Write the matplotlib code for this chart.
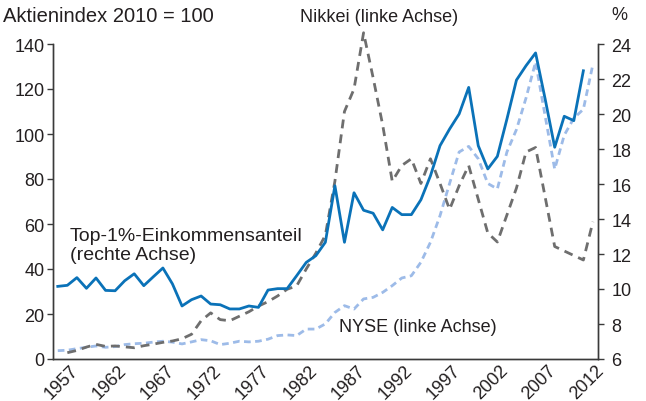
import matplotlib.pyplot as plt
import matplotlib.transforms as mtransforms

plt.rcParams['font.family'] = ['Liberation Sans', 'DejaVu Sans']

# data
years = list(range(1957, 2014))
top1_years = list(range(1957, 2013))
nikkei_years = list(range(1958, 2014))

top1_share = [10.15, 10.21, 10.65, 10.04, 10.63, 9.92, 9.90, 10.47, 10.87, 10.19,
              10.70, 11.20, 10.29, 9.03, 9.39, 9.60, 9.14, 9.10, 8.86, 8.86,
              9.03, 8.95, 9.94, 10.02, 10.02, 10.76, 11.52, 11.90, 12.67, 15.90,
              12.67, 15.50, 14.50, 14.33, 13.38, 14.66, 14.25, 14.25, 15.10, 16.47,
              18.19, 19.14, 20.00, 21.52, 18.19, 16.86, 17.58, 19.71, 21.94, 22.76,
              23.49, 20.86, 18.10, 19.87, 19.62, 22.47]

nikkei = [2.8, 3.8, 5.3, 6.5, 5.6, 5.8, 5.4, 5.0, 5.9,
          6.6, 7.4, 8.0, 9.0, 11.0, 17.0, 20.5, 17.5, 17.0, 19.0,
          21.0, 23.5, 25.5, 28.0, 31.0, 32.5, 40.0, 47.0, 55.0, 79.0,
          110.0, 120.0, 145.0, 125.0, 104.0, 79.0, 86.0, 89.0, 78.0, 89.0,
          78.0, 66.5, 77.0, 86.0, 71.0, 56.0, 52.0, 64.0, 76.0, 92.0,
          94.0, 72.0, 50.0, 48.0, 46.0, 44.0, 61.0]

nyse = [3.7, 3.9, 4.6, 5.2, 5.8, 5.2, 5.5, 6.4, 6.8, 7.0,
        7.5, 7.9, 7.5, 6.7, 7.6, 8.6, 8.1, 6.4, 7.0, 7.9,
        7.6, 7.9, 8.8, 10.4, 10.7, 10.4, 13.3, 13.3, 15.6, 20.7,
        23.7, 22.2, 26.7, 27.4, 29.6, 32.6, 36.0, 37.0, 43.0, 51.9,
        63.7, 78.0, 92.0, 94.5, 89.0, 78.0, 75.6, 92.0, 102.0, 116.0,
        132.0, 108.0, 84.4, 99.5, 107.0, 111.0, 131.0]

tick_years = list(range(1957, 2013, 5))
left_ticks = list(range(0, 141, 20))
right_ticks = list(range(6, 25, 2))

text_col = '#231f20'
axis_col = '#3a3a3a'
fs = 13

fig = plt.figure(figsize=(6.46, 4.02), dpi=100)
ax = fig.add_axes([53 / 646, 1 - 360 / 402, 544.7 / 646, 315 / 402])
ax2 = ax.twinx()

ax.plot(years, nyse, color='#9dbbe8', lw=2.0, dashes=(2.4, 1.6))
ax.plot(nikkei_years, nikkei, color='#6e6e6e', lw=2.0, dashes=(3.2, 2.2), clip_on=False)
ax2.plot(top1_years, top1_share, color='#0a72b8', lw=2.0)

ax.set_xlim(1956.5, 2013.5)
ax.set_ylim(0, 140)
ax2.set_ylim(6, 24)
ax.set_yticks(left_ticks)
ax2.set_yticks(right_ticks)
ax.set_xticks(tick_years)

for a in (ax, ax2):
    a.spines['top'].set_visible(False)
    for s in ('left', 'right', 'bottom'):
        a.spines[s].set_color(axis_col)
        a.spines[s].set_linewidth(1.0)
    a.tick_params(axis='y', direction='out', length=4, width=1, color=axis_col,
                  labelsize=fs, labelcolor=text_col, pad=2)
ax2.tick_params(axis='y', pad=6)
ax.tick_params(axis='x', length=0, labelsize=fs, labelcolor=text_col, pad=2)

shift = mtransforms.ScaledTranslation(0.12, 0.0, fig.dpi_scale_trans)
for lab in ax.get_xticklabels():
    lab.set_rotation(45)
    lab.set_ha('right')
    lab.set_va('top')
    lab.set_rotation_mode('anchor')
    lab.set_transform(lab.get_transform() + shift)

fig.text(3 / 646, 1 - 16 / 402, 'Aktienindex 2010 = 100', fontsize=14.5, color=text_col, va='center')
fig.text(611 / 646, 1 - 16 / 402, '%', fontsize=fs, color=text_col, va='center')
fig.text(300 / 646, 1 - 18 / 402, 'Nikkei (linke Achse)', fontsize=fs, color=text_col, va='center')
fig.text(70 / 646, 1 - 246 / 402, 'Top-1%-Einkommensanteil\n(rechte Achse)', fontsize=14,
         color=text_col, va='center', linespacing=1.15)
fig.text(339 / 646, 1 - 328 / 402, 'NYSE (linke Achse)', fontsize=fs, color=text_col, va='center')

fig.savefig('out.png', dpi=100)
